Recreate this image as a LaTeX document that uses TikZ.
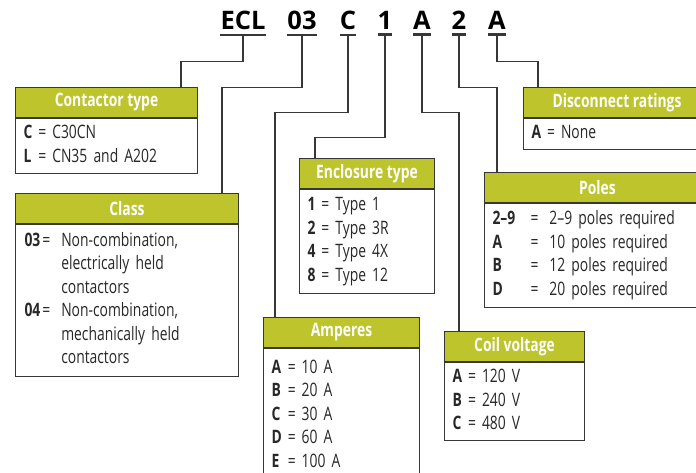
\documentclass[tikz,border=0pt]{standalone}
\usepackage{fontspec}
\setmainfont{Open Sans}[FakeStretch=0.75]
\newfontfamily\codefont{Open Sans}
\usetikzlibrary{positioning}
\definecolor{headcolor}{RGB}{190,196,44}
\definecolor{linecolor}{RGB}{55,55,55}
\definecolor{textcolor}{RGB}{40,40,40}
\tikzstyle{code} = [font=\codefont\bfseries\fontsize{25.5}{30}\selectfont,
    inner xsep=0pt,
    inner ysep=4.5pt,
    anchor=base]
\tikzstyle{head} = [rectangle,
    draw=linecolor,
    fill=headcolor,
    text=white,
    font=\bfseries\fontsize{18.5}{22}\selectfont,
    minimum height=30pt,
    inner sep=0pt,
    line width=1pt,
    anchor=north west]
\tikzstyle{body} = [rectangle,
    draw=linecolor,
    fill=white,
    text=textcolor,
    inner xsep=8pt,
    inner ysep=0pt,
    align=left,
    line width=1pt,
    font=\fontsize{18.5}{23.5}\selectfont]
\tikzstyle{wire} = [draw=linecolor, line width=1.2pt]

\begin{document}
\begin{tikzpicture}[x=1pt,y=-1pt]

\useasboundingbox (0,0) rectangle (696,473);
\clip (0,0) rectangle (696,473);

% the code
\node (ecl) [code] at (243,30) {ECL};
\node (cls) [code] at (302,30) {03};
\node (amp) [code] at (348,30) {C};
\node (enc) [code] at (385,30) {1};
\node (coil) [code] at (422,30) {A};
\node (poles) [code] at (459,30) {2};
\node (disc) [code] at (497,30) {A};

\foreach \n in {ecl,cls,amp,enc,coil,poles,disc}
    \draw [linecolor, line width=2.6pt] (\n.south west) -- (\n.south east);

% the boxes
\node (ctypehead) [head, minimum width=182pt] at (15,87) {Contactor type};
\node (ctypebody) [body, text width=166pt, minimum height=55pt, below = 0pt of ctypehead]
    {\begin{tabular}{@{}l@{\hspace{6pt}}l@{\hspace{6pt}}l@{}}
    \textbf{C} & = & C30CN\\
    \textbf{L} & = & CN35 and A202
    \end{tabular}};

\node (classhead) [head, minimum width=223pt] at (15,193) {Class};
\node (classbody) [body, text width=205pt, inner xsep=9pt, minimum height=152pt, below = 0pt of classhead]
    {\begin{tabular}{@{}l@{\hspace{2pt}}l@{\hspace{11pt}}l@{}}
    \textbf{03} & = & Non-combination,\\
     & & electrically held\\
     & & contactors\\
    \textbf{04} & = & Non-combination,\\
     & & mechanically held\\
     & & contactors
    \end{tabular}};

\node (enchead) [head, minimum width=135pt] at (299,158) {Enclosure type};
\node (encbody) [body, text width=119pt, minimum height=104pt, below = 0pt of enchead]
    {\begin{tabular}{@{}l@{\hspace{6pt}}l@{\hspace{6pt}}l@{}}
    \textbf{1} & = & Type 1\\
    \textbf{2} & = & Type 3R\\
    \textbf{4} & = & Type 4X\\
    \textbf{8} & = & Type 12
    \end{tabular}};

\node (amphead) [head, minimum width=156pt] at (263,317) {Amperes};
\node (ampbody) [body, text width=140pt, minimum height=134pt, below = 0pt of amphead]
    {\begin{tabular}{@{}l@{\hspace{6pt}}l@{\hspace{6pt}}l@{}}
    \textbf{A} & = & 10 A\\
    \textbf{B} & = & 20 A\\
    \textbf{C} & = & 30 A\\
    \textbf{D} & = & 60 A\\
    \textbf{E} & = & 100 A
    \end{tabular}};

\node (coilhead) [head, minimum width=140pt] at (444,331) {Coil voltage};
\node (coilbody) [body, text width=124pt, minimum height=78pt, below = 0pt of coilhead]
    {\begin{tabular}{@{}l@{\hspace{6pt}}l@{\hspace{6pt}}l@{}}
    \textbf{A} & = & 120 V\\
    \textbf{B} & = & 240 V\\
    \textbf{C} & = & 480 V
    \end{tabular}};

\node (poleshead) [head, minimum width=226pt] at (484,172) {Poles};
\node (polesbody) [body, text width=210pt, minimum height=104pt, below = 0pt of poleshead]
    {\begin{tabular}{@{}p{38pt}@{}l@{\hspace{11pt}}l@{}}
    \textbf{2--9} & = & 2--9 poles required\\
    \textbf{A} & = & 10 poles required\\
    \textbf{B} & = & 12 poles required\\
    \textbf{D} & = & 20 poles required
    \end{tabular}};

\node (dischead) [head, minimum width=187pt] at (523,87) {Disconnect ratings};
\node (discbody) [body, text width=171pt, minimum height=31pt, below = 0pt of dischead]
    {\begin{tabular}{@{}l@{\hspace{6pt}}l@{\hspace{6pt}}l@{}}
    \textbf{A} & = & None
    \end{tabular}};

% the wires
\draw [wire] (ecl.south) -- ++(0,26.5) -| ([xshift=166pt]ctypehead.north west);
\draw [wire] (cls.south) -- ++(0,52.5) -| ([xshift=207pt]classhead.north west);
\draw [wire] (amp.south) -- ++(0,77.5) -| ([xshift=12pt]amphead.north west);
\draw [wire] (enc.south) -- ++(0,102.5) -| ([xshift=16pt]enchead.north west);
\draw [wire] (coil.south) -- ++(0,77.5) -| ([xshift=15pt]coilhead.north west);
\draw [wire] (poles.south) -- ++(0,52.5) -| ([xshift=13pt]poleshead.north west);
\draw [wire] (disc.south) -- ++(0,26.5) -| ([xshift=15pt]dischead.north west);

\end{tikzpicture}
\end{document}
